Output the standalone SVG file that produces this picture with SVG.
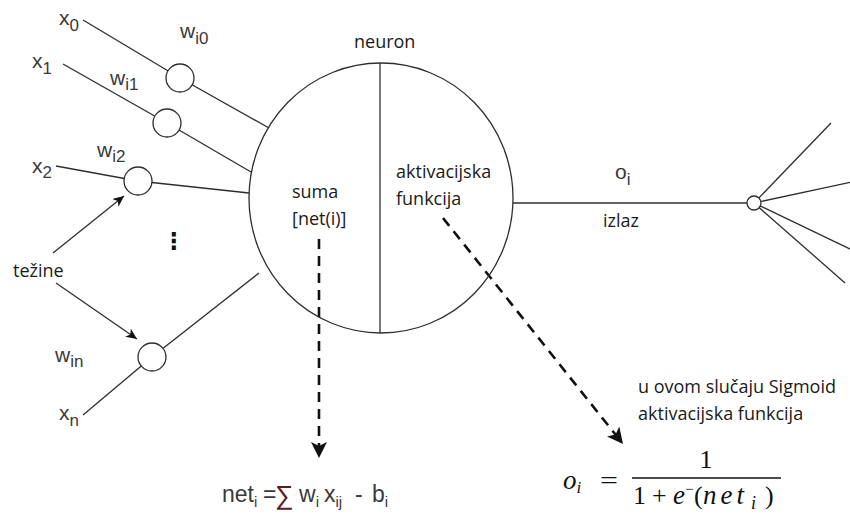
<svg xmlns="http://www.w3.org/2000/svg" width="850" height="518" viewBox="0 0 850 518">
<style>
.ln{stroke:#2e2e2e;stroke-width:1.3;fill:none}
.nd{stroke:#2e2e2e;stroke-width:1.3;fill:#fff}
.cal{font-family:"Open Sans","Noto Sans",sans-serif;font-size:18px;fill:#1a1a1a}
.ar{font-family:"Liberation Sans",Arial,sans-serif;font-size:21px;fill:#3a3a3a}
.sb{font-size:17px}
.nf{font-size:23px}
.ns{font-size:15px}
.mi{font-family:"Liberation Serif","Times New Roman",serif;font-style:italic;font-size:27px;fill:#111}
.mr{font-family:"Liberation Serif","Times New Roman",serif;font-size:26px;fill:#111}
.dash{stroke:#111;stroke-width:2.6;fill:none;stroke-dasharray:10 7}
</style>
<defs>
<marker id="ah" markerUnits="userSpaceOnUse" markerWidth="12" markerHeight="10" refX="11" refY="5" orient="auto">
<path d="M0,0 L11,5 L0,10 L3,5 z" fill="#111"/>
</marker>
<marker id="ahb" markerUnits="userSpaceOnUse" markerWidth="17" markerHeight="16" refX="16" refY="8" orient="auto">
<path d="M0,0 L16,8 L0,16 L4,8 z" fill="#111"/>
</marker>
</defs>
<g id="connectors">
<line class="ln" x1="83" y1="20" x2="180" y2="78"/>
<line class="ln" x1="180" y1="78" x2="269" y2="128"/>
<line class="ln" x1="63" y1="64" x2="167" y2="123"/>
<line class="ln" x1="167" y1="123" x2="251" y2="172"/>
<line class="ln" x1="56" y1="166" x2="138" y2="181"/>
<line class="ln" x1="138" y1="181" x2="249" y2="193"/>
<line class="ln" x1="83" y1="415" x2="152" y2="357"/>
<line class="ln" x1="152" y1="357" x2="259" y2="273"/>
<line class="ln" x1="53" y1="253" x2="124" y2="196" marker-end="url(#ah)"/>
<line class="ln" x1="56" y1="283" x2="137" y2="339" marker-end="url(#ah)"/>
<line class="ln" x1="513" y1="203" x2="754" y2="203"/>
<line class="ln" x1="754" y1="203" x2="831" y2="123"/>
<line class="ln" x1="754" y1="203" x2="852" y2="182"/>
<line class="ln" x1="754" y1="203" x2="852" y2="250"/>
<line class="ln" x1="754" y1="203" x2="845" y2="283"/>
<path class="dash" d="M319,239 L319,458" marker-end="url(#ahb)"/>
<path class="dash" d="M443,218 L623,444" marker-end="url(#ahb)"/>
</g>
<g id="neuron">
<ellipse class="ln" cx="381" cy="198" rx="132" ry="135"/>
<line class="ln" x1="380" y1="63" x2="380" y2="333"/>
<text class="cal" x="354" y="48">neuron</text>
<text class="cal" x="292" y="198">suma</text>
<text class="cal" x="292" y="225">[net(i)]</text>
<text class="cal" x="396" y="178">aktivacijska</text>
<text class="cal" x="396" y="205">funkcija</text>
</g>
<g id="w0"><circle class="nd" cx="180" cy="78" r="14"/><text class="ar" x="180" y="38">w<tspan class="sb" dy="6">i0</tspan></text></g>
<g id="w1"><circle class="nd" cx="167" cy="123" r="14"/><text class="ar" x="110" y="85">w<tspan class="sb" dy="5">i1</tspan></text></g>
<g id="w2"><circle class="nd" cx="138" cy="181" r="14"/><text class="ar" x="97" y="157">w<tspan class="sb" dy="5">i2</tspan></text></g>
<g id="wn"><circle class="nd" cx="152" cy="357" r="14"/><text class="ar" x="55" y="362">w<tspan class="sb" dy="5">in</tspan></text></g>
<g id="x0"><text class="ar" x="59" y="25">x<tspan class="sb" dy="6">0</tspan></text></g>
<g id="x1"><text class="ar" x="32" y="68">x<tspan class="sb" dy="6">1</tspan></text></g>
<g id="x2"><text class="ar" x="32" y="173">x<tspan class="sb" dy="5">2</tspan></text></g>
<g id="xn"><text class="ar" x="59" y="420">x<tspan class="sb" dy="6">n</tspan></text></g>
<g id="dots"><text x="174" y="249" text-anchor="middle" style="font-family:'DejaVu Sans',sans-serif;font-size:23px;font-weight:bold;fill:#111">⋮</text></g>
<g id="tezine"><text class="cal" x="13" y="277">težine</text></g>
<g id="output">
<circle class="nd" cx="754" cy="203" r="7"/>
<text class="ar" x="615" y="179">o<tspan class="sb" dy="6">i</tspan></text>
<text class="cal" x="603" y="227">izlaz</text>
</g>
<g id="net-formula">
<text class="ar nf" x="222" y="502">net<tspan class="ns" dy="5">i</tspan></text>
<text class="ar nf" x="263" y="502">=</text>
<text x="275" y="504" style="font-family:'Liberation Sans',sans-serif;font-size:26px;fill:#5a1c1c">∑</text>
<text class="ar nf" x="299" y="502">w<tspan class="ns" dy="5">i</tspan></text>
<text class="ar nf" x="324" y="502">x<tspan class="ns" dy="5">ij</tspan></text>
<text class="ar nf" x="355" y="502">-</text>
<text class="ar nf" x="372" y="502">b<tspan class="ns" dy="5">i</tspan></text>
</g>
<g id="sigmoid-note">
<text class="cal" x="638" y="393">u ovom slučaju Sigmoid</text>
<text class="cal" x="638" y="420">aktivacijska funkcija</text>
</g>
<g id="sigmoid-formula">
<text class="mi" x="563" y="489">o<tspan dy="4" style="font-size:17px">i</tspan></text>
<text class="mr" x="600" y="489" textLength="18" lengthAdjust="spacingAndGlyphs">=</text>
<text class="mr" x="706" y="468" text-anchor="middle">1</text>
<line x1="632" y1="478" x2="781" y2="478" stroke="#111" stroke-width="1.3"/>
<text class="mr" x="633" y="504">1</text>
<text class="mr" x="652" y="504">+</text>
<text class="mi" x="673" y="504">e</text>
<text class="mr" x="685" y="494" style="font-size:15px">−</text>
<text class="mr" x="694" y="504">(</text>
<text class="mi" x="703" y="504" style="letter-spacing:4px">net</text>
<text class="mi" x="751" y="509" style="font-size:18px">i</text>
<text class="mr" x="765" y="504">)</text>
</g>
</svg>
